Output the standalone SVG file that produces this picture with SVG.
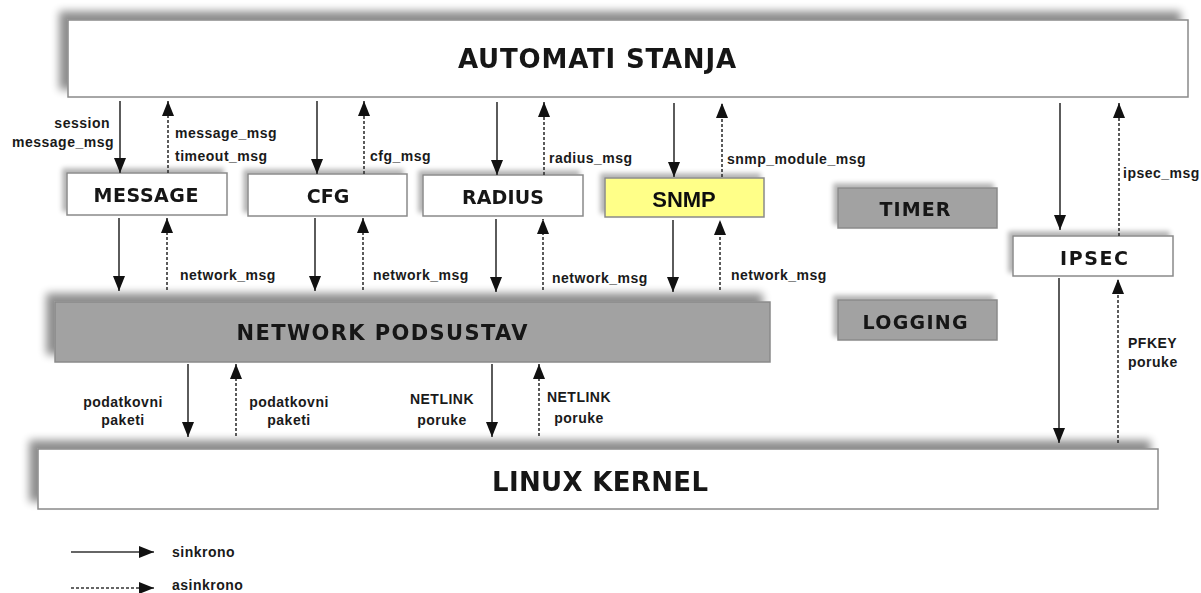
<svg xmlns="http://www.w3.org/2000/svg" width="1201" height="593" viewBox="0 0 1201 593">
  <defs>
    <!-- soft drop shadows cast towards the upper left -->
    <filter id="shadowBig" x="-10%" y="-60%" width="120%" height="200%">
      <feGaussianBlur in="SourceAlpha" stdDeviation="4" result="b"/>
      <feOffset in="b" dx="-8" dy="-8" result="o"/>
      <feComponentTransfer in="o" result="s"><feFuncA type="linear" slope="0.45"/></feComponentTransfer>
      <feMerge><feMergeNode in="s"/><feMergeNode in="SourceGraphic"/></feMerge>
    </filter>
    <filter id="shadowSmall" x="-20%" y="-50%" width="140%" height="200%">
      <feGaussianBlur in="SourceAlpha" stdDeviation="2.5" result="b"/>
      <feOffset in="b" dx="-4" dy="-4" result="o"/>
      <feComponentTransfer in="o" result="s"><feFuncA type="linear" slope="0.3"/></feComponentTransfer>
      <feMerge><feMergeNode in="s"/><feMergeNode in="SourceGraphic"/></feMerge>
    </filter>
    <marker id="head" markerUnits="userSpaceOnUse" markerWidth="15" markerHeight="12" refX="15" refY="6" orient="auto">
      <path d="M0,0 L15,6 L0,12 z" fill="#111"/>
    </marker>
  </defs>
  <style>
    .box { stroke: #8a8a8a; stroke-width: 1.5; }
    .white { fill: #ffffff; }
    .grey { fill: #a2a2a2; }
    .yellow { fill: #ffff88; }
    .big { font-family: "DejaVu Sans", Verdana, sans-serif; font-weight: bold; font-size: 26px; fill: #151515; text-anchor: middle; }
    .net { font-size: 21px; }
    .mid { font-family: "DejaVu Sans", Verdana, sans-serif; font-weight: bold; font-size: 19px; fill: #151515; text-anchor: middle; }
    .snmp { font-family: "Liberation Sans", Arial, sans-serif; font-weight: bold; font-size: 22px; fill: #111; text-anchor: middle; }
    .lbl { font-family: "Liberation Sans", Arial, sans-serif; font-weight: bold; font-size: 14px; letter-spacing: 0.5px; fill: #1a1a1a; }
    .sync { stroke: #333; stroke-width: 1.6; fill: none; marker-end: url(#head); }
    .async { stroke: #333; stroke-width: 1.6; fill: none; stroke-dasharray: 3 2; marker-end: url(#head); }
  </style>

  <g id="automati-stanja" filter="url(#shadowBig)">
    <rect class="box white" x="68" y="20" width="1120" height="77"/>
    <text class="big" x="597" y="68" textLength="278" lengthAdjust="spacing">AUTOMATI STANJA</text>
  </g>

  <g id="message" filter="url(#shadowSmall)">
    <rect class="box white" x="67" y="173" width="160" height="42"/>
    <text class="mid" x="146" y="202" textLength="105" lengthAdjust="spacing">MESSAGE</text>
  </g>

  <g id="cfg" filter="url(#shadowSmall)">
    <rect class="box white" x="248" y="174" width="159" height="42"/>
    <text class="mid" x="328" y="203">CFG</text>
  </g>

  <g id="radius" filter="url(#shadowSmall)">
    <rect class="box white" x="423" y="175" width="160" height="41"/>
    <text class="mid" x="503" y="204" textLength="82" lengthAdjust="spacing">RADIUS</text>
  </g>

  <g id="snmp" filter="url(#shadowSmall)">
    <rect class="box yellow" x="605" y="178" width="159" height="39"/>
    <text class="snmp" x="684" y="207">SNMP</text>
  </g>

  <g id="timer" filter="url(#shadowSmall)">
    <rect class="box grey" x="838" y="188" width="159" height="40"/>
    <text class="mid" x="915" y="216" textLength="71" lengthAdjust="spacing">TIMER</text>
  </g>

  <g id="logging" filter="url(#shadowSmall)">
    <rect class="box grey" x="838" y="300" width="159" height="40"/>
    <text class="mid" x="915" y="329" textLength="105" lengthAdjust="spacing">LOGGING</text>
  </g>

  <g id="ipsec" filter="url(#shadowSmall)">
    <rect class="box white" x="1013" y="236" width="160" height="40"/>
    <text class="mid" x="1094" y="265" textLength="68" lengthAdjust="spacing">IPSEC</text>
  </g>

  <g id="network-podsustav" filter="url(#shadowBig)">
    <rect class="box grey" x="55" y="302" width="715" height="60"/>
    <text class="big net" x="382" y="340" textLength="291" lengthAdjust="spacing">NETWORK PODSUSTAV</text>
  </g>

  <g id="linux-kernel" filter="url(#shadowBig)">
    <rect class="box white" x="38" y="449" width="1120" height="60"/>
    <text class="big" x="600" y="491" textLength="216" lengthAdjust="spacing">LINUX KERNEL</text>
  </g>

  <g id="connectors">
    <!-- state machines <-> modules -->
    <line class="sync" x1="120" y1="101" x2="120" y2="173"/>
    <line class="async" x1="168" y1="173" x2="168" y2="101"/>
    <line class="sync" x1="317" y1="101" x2="317" y2="174"/>
    <line class="async" x1="364" y1="174" x2="364" y2="101"/>
    <line class="sync" x1="497" y1="102" x2="497" y2="175"/>
    <line class="async" x1="544" y1="175" x2="544" y2="102"/>
    <line class="sync" x1="674" y1="103" x2="674" y2="177"/>
    <line class="async" x1="722" y1="177" x2="722" y2="103"/>
    <line class="sync" x1="1060" y1="103" x2="1060" y2="230"/>
    <line class="async" x1="1119" y1="236" x2="1119" y2="103"/>

    <!-- modules <-> network subsystem -->
    <line class="sync" x1="119" y1="218" x2="119" y2="291"/>
    <line class="async" x1="167" y1="290" x2="167" y2="218"/>
    <line class="sync" x1="315" y1="218" x2="315" y2="291"/>
    <line class="async" x1="363" y1="290" x2="363" y2="218"/>
    <line class="sync" x1="496" y1="219" x2="496" y2="292"/>
    <line class="async" x1="543" y1="290" x2="543" y2="219"/>
    <line class="sync" x1="673" y1="220" x2="673" y2="292"/>
    <line class="async" x1="720" y1="290" x2="720" y2="220"/>

    <!-- network subsystem / ipsec <-> kernel -->
    <line class="sync" x1="188" y1="364" x2="188" y2="437"/>
    <line class="async" x1="236" y1="436" x2="236" y2="364"/>
    <line class="sync" x1="492" y1="364" x2="492" y2="437"/>
    <line class="async" x1="539" y1="436" x2="539" y2="364"/>
    <line class="sync" x1="1059" y1="278" x2="1059" y2="443"/>
    <line class="async" x1="1118" y1="443" x2="1118" y2="279"/>

    <!-- legend -->
    <line class="sync" x1="71" y1="552" x2="154" y2="552"/>
    <line class="async" x1="71" y1="588" x2="154" y2="588"/>
  </g>

  <g id="labels">
    <text class="lbl" x="110" y="128" text-anchor="end">session</text>
    <text class="lbl" x="114" y="147" text-anchor="end">message_msg</text>
    <text class="lbl" x="175" y="138">message_msg</text>
    <text class="lbl" x="175" y="161">timeout_msg</text>
    <text class="lbl" x="370" y="161">cfg_msg</text>
    <text class="lbl" x="549" y="163">radius_msg</text>
    <text class="lbl" x="727" y="164">snmp_module_msg</text>
    <text class="lbl" x="1123" y="178">ipsec_msg</text>

    <text class="lbl" x="180" y="280">network_msg</text>
    <text class="lbl" x="373" y="280">network_msg</text>
    <text class="lbl" x="552" y="283">network_msg</text>
    <text class="lbl" x="731" y="280">network_msg</text>

    <text class="lbl" x="123" y="407" text-anchor="middle">podatkovni</text>
    <text class="lbl" x="123" y="425" text-anchor="middle">paketi</text>
    <text class="lbl" x="289" y="407" text-anchor="middle">podatkovni</text>
    <text class="lbl" x="289" y="425" text-anchor="middle">paketi</text>
    <text class="lbl" x="442" y="404" text-anchor="middle">NETLINK</text>
    <text class="lbl" x="442" y="425" text-anchor="middle">poruke</text>
    <text class="lbl" x="579" y="402" text-anchor="middle">NETLINK</text>
    <text class="lbl" x="579" y="423" text-anchor="middle">poruke</text>
    <text class="lbl" x="1128" y="348">PFKEY</text>
    <text class="lbl" x="1128" y="367">poruke</text>

    <text class="lbl" x="172" y="557">sinkrono</text>
    <text class="lbl" x="172" y="590">asinkrono</text>
  </g>
</svg>
